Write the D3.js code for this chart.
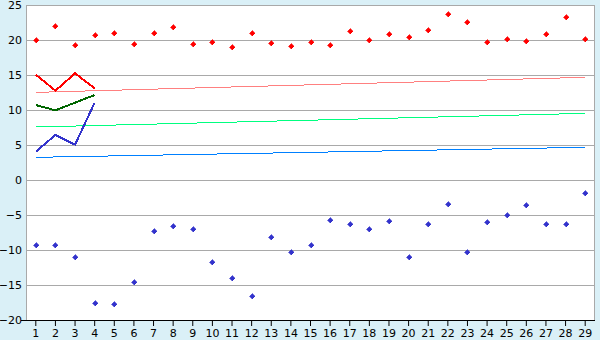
<!DOCTYPE html>
<html>
<head>
<meta charset="utf-8">
<script src="https://cdn.jsdelivr.net/npm/d3@7"></script>
<style>
  body { margin: 0; background: #daf0f7; }
  svg { display: block; }
  .tick text { font-family: "DejaVu Sans", Verdana, sans-serif; font-size: 11px; fill: #000; }
</style>
</head>
<body>
<svg id="chart" width="600" height="340"></svg>
<script>
let categories = d3.range(1, 30);
let yTicks = [-20, -15, -10, -5, 0, 5, 10, 15, 20, 25];

let highPoints = [20.0, 22.0, 19.24, 20.67, 20.95, 19.38, 20.95, 21.8, 19.5, 19.67,
                  18.95, 20.95, 19.52, 19.1, 19.67, 19.24, 21.24, 19.95, 20.81, 20.38,
                  21.38, 23.67, 22.52, 19.67, 20.1, 19.81, 20.81, 23.24, 20.1];
let lowPoints = [-9.33, -9.33, -11.05, -17.62, -17.76, -14.62, -7.33, -6.62, -7.05, -11.76,
                 -14.05, -16.62, -8.19, -10.33, -9.33, -5.76, -6.33, -7.05, -5.9, -11.05,
                 -6.33, -3.48, -10.33, -6.05, -5.05, -3.62, -6.33, -6.33, -1.9];

let redLine = [15.05, 12.76, 15.24, 13.1];
let greenLine = [10.71, 9.95, 11.05, 12.14];
let blueLine = [4.05, 6.43, 5.05, 11.05];

// trend lines, value at first and last category
let trendCats = [1, 29];
let redTrend = [12.52, 14.67];
let greenTrend = [7.57, 9.52];
let blueTrend = [3.24, 4.67];

let svg = d3.select('#chart');
let plotLeft = 26, plotRight = 595, plotTop = 5, plotBottom = 320;

let x = d3.scaleBand().domain(categories).range([plotLeft, plotRight]);
let cx = d => x(d) + x.bandwidth() / 2;
let y = d3.scaleLinear().domain([-20, 25]).range([plotBottom, plotTop]);

svg.append("rect")
   .attr("x", plotLeft).attr("y", plotTop)
   .attr("width", plotRight - plotLeft).attr("height", plotBottom - plotTop)
   .attr("fill", "#fff")

// grid
svg.append("g").selectAll("line")
   .data(yTicks)
   .enter()
   .append("line")
   .attr("x1", plotLeft).attr("x2", plotRight)
   .attr("y1", d => Math.round(y(d)) + 0.5)
   .attr("y2", d => Math.round(y(d)) + 0.5)
   .attr("stroke", "#a9a9a9")
   .attr("stroke-width", 1)

svg.append("rect")
   .attr("x", plotLeft + 0.5).attr("y", plotTop + 0.5)
   .attr("width", plotRight - plotLeft - 1).attr("height", plotBottom - plotTop)
   .attr("fill", "none")
   .attr("stroke", "#a9a9a9")

// axes
let yAxis = svg.append("g")
   .attr("transform", "translate(" + plotLeft + ",0)")
   .call(d3.axisLeft(y).tickValues(yTicks).tickSize(0).tickPadding(4))
yAxis.select(".domain").remove()

let xAxis = svg.append("g")
   .attr("transform", "translate(0," + plotBottom + ")")
   .call(d3.axisBottom(x).tickSize(6).tickPadding(3))
xAxis.select(".domain").remove()
xAxis.selectAll(".tick line").attr("stroke", "#000")

svg.append("line")
   .attr("x1", plotLeft - 5).attr("x2", plotRight)
   .attr("y1", plotBottom + 0.5).attr("y2", plotBottom + 0.5)
   .attr("stroke", "#000")

let line = d3.line().x((d, i) => cx(categories[i])).y(d => y(d));
let trend = d3.line().x((d, i) => cx(trendCats[i])).y(d => y(d));

let trends = [[redTrend, "#ff8080"], [greenTrend, "#00ff80"], [blueTrend, "#0080ff"]];
trends.forEach(t => {
  svg.append("path")
     .attr("d", trend(t[0]))
     .attr("fill", "none")
     .attr("stroke", t[1])
     .attr("stroke-width", 1)
     .attr("shape-rendering", "crispEdges")
})

let lines = [[redLine, "#ff0000"], [greenLine, "#006600"], [blueLine, "#3333cc"]];
lines.forEach(l => {
  svg.append("path")
     .attr("d", line(l[0]))
     .attr("fill", "none")
     .attr("stroke", l[1])
     .attr("stroke-width", 2)
     .attr("shape-rendering", "crispEdges")
})

// small pixel cross marker
let marker = "M-0.5,-2.5h1v1h1v1h1v1h-1v1h-1v1h-1v-1h-1v-1h-1v-1h1v-1h1z";
let points = [[highPoints, "#ff0000"], [lowPoints, "#3333cc"]];
points.forEach(p => {
  svg.append("g").selectAll("path")
     .data(p[0])
     .enter()
     .append("path")
     .attr("d", marker)
     .attr("transform", (d, i) => "translate(" + Math.round(cx(categories[i])) + "," + Math.round(y(d)) + ")")
     .attr("fill", p[1])
     .attr("stroke", p[1])
     .attr("stroke-width", 0.6)
     .attr("shape-rendering", "crispEdges")
})
</script>
</body>
</html>
